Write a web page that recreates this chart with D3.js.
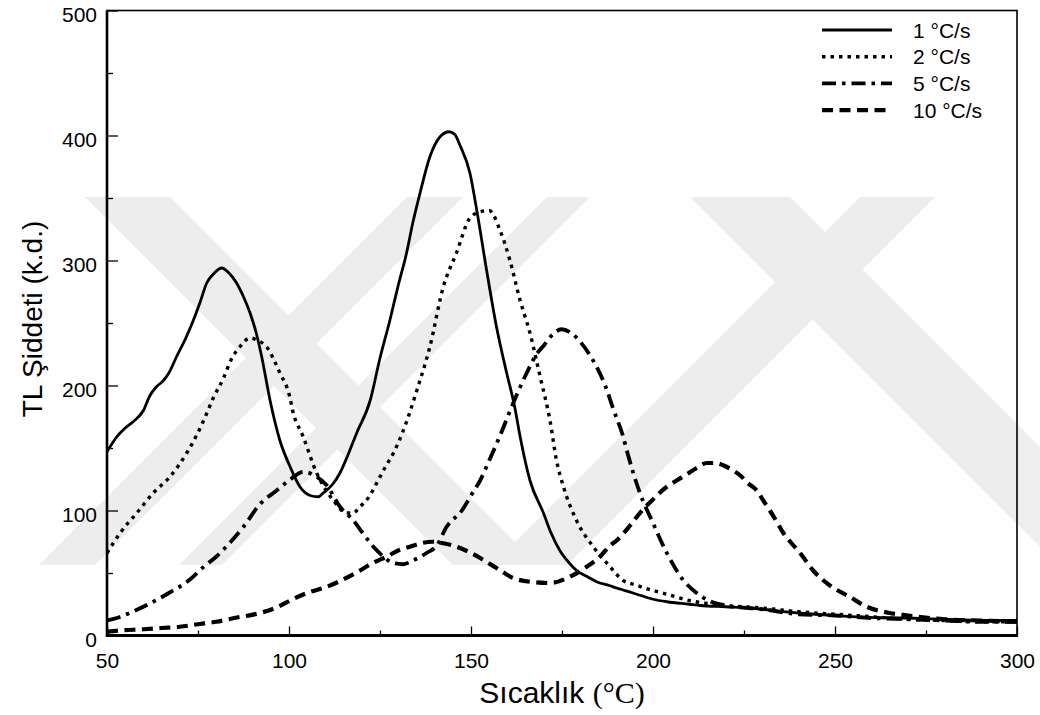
<!DOCTYPE html>
<html>
<head>
<meta charset="utf-8">
<script src="https://cdn.jsdelivr.net/npm/d3@7"></script>
<style>
  body { margin: 0; background: #fff; }
  text { font-family: "Liberation Sans", Arial, sans-serif; fill: #000; }
</style>
</head>
<body>
<div id="chart"></div>
<script>
// heating rates shown in the legend
var rates = ["1 °C/s", "2 °C/s", "5 °C/s", "10 °C/s"];

// 1 °C/s (solid)
var temp1 = [50, 52.7, 55, 57.2, 60, 61.8, 63.6, 65.5, 67, 69.1, 71.5, 73.7, 75.5, 77.4, 79.5, 81.5, 83.5, 85.6, 87.5, 89.3,
  91, 92.5, 94.8, 97.5, 100.3, 103, 105.8, 108, 109.4, 112, 114, 116, 118.6, 122.3, 125, 127.7, 130, 132.3, 134, 136,
  138.7, 141.5, 144, 145.5, 147, 149.7, 151.6, 154.3, 157, 159.8, 162, 163.5, 166.2, 169.9, 172, 174.4, 177, 179, 182, 184.5,
  188, 190, 194.5, 200, 203.8, 210, 213, 220, 226.6, 233, 240, 250, 258.7, 270, 280, 290, 300];
var int1 = [147, 159, 166, 171, 180, 192, 199, 204, 210, 223, 237, 252, 266, 282, 290, 294, 290, 282, 271, 258,
  242, 223, 188, 156, 135, 119, 112, 111, 114, 121, 130, 143, 162, 188, 222, 252, 280, 306, 330, 354,
  383, 399, 403, 401, 392, 370, 340, 292, 247, 210, 183, 159, 124, 98, 82, 68, 58, 52, 47, 43,
  40, 38, 34, 29, 27, 25, 24, 23, 22, 20, 18, 16, 14.5, 14, 13, 12, 12];

// 2 °C/s (dotted)
var temp2 = [50, 53.6, 58.2, 62.7, 67.3, 71.9, 74.6, 77, 79.2, 82, 84, 86.5, 89.3, 91.5, 93.8, 97.5, 100.2, 101, 103.9, 107.6,
  110, 112.2, 115.8, 117.6, 119.5, 122, 124.1, 126.5, 128.7, 131, 133, 135, 138.7, 142.4, 146, 149.7, 152.5, 155, 158, 160.7,
  163.5, 166.2, 169, 171.7, 173.5, 175.4, 179, 183.6, 188.2, 191.8, 194.6, 200, 203.8, 210, 220, 230, 240, 250, 260, 270,
  280, 290, 300];
var int2 = [66, 82, 98, 114, 127, 146, 160, 175, 190, 206, 220, 231, 238, 236, 231, 210, 191, 180, 159, 130,
  117, 108, 98, 98, 103, 111, 122, 135, 146, 161, 177, 195, 231, 279, 306, 334, 339, 340, 324, 300,
  268, 242, 207, 172, 140, 119, 92, 71, 55, 44, 41, 36, 33, 28, 24, 22, 19, 17, 15, 13,
  12, 11, 11];

// 5 °C/s (dash-dot)
var temp5 = [50, 52.7, 57, 62, 67, 72, 77, 80, 84, 87.5, 92, 96.6, 100, 104, 107, 110.4, 114, 117.7, 120, 123.2,
  126, 128.5, 131.4, 134, 137.8, 140.6, 143.3, 147.5, 150, 152.5, 155, 158, 161.6, 165.3, 168, 170, 172.5, 174.9, 177.5, 180,
  182.5, 184.5, 187, 189.1, 191.8, 192.8, 196.4, 200, 203.8, 208.4, 212, 216, 220, 230, 240, 250, 260, 270, 280, 290, 300];
var int5 = [12, 14, 19, 26, 34, 43, 56, 63, 75, 87, 105, 116, 124, 131, 128, 120, 103, 92, 83, 71,
  63, 58, 57, 60, 66, 72, 87, 100, 112, 124, 140, 160, 186, 210, 225, 232, 241, 245, 242, 235,
  225, 215, 199, 181, 159, 148, 114, 90, 66, 44, 34, 27, 24, 21, 17, 16, 14, 13, 12, 11, 11];

// 10 °C/s (dashed)
var temp10 = [50, 53.6, 60, 65, 70, 75, 80, 85, 92, 97, 101, 105, 110.4, 115, 119.5, 123, 126.8, 130, 133.2, 136.5,
  139.6, 142, 145, 147, 150, 152.5, 157, 161.6, 166.2, 171.7, 177.2, 181.8, 185.4, 188.2, 190, 193.7, 197, 199, 203.8, 206.5,
  209.3, 212, 214.8, 217.2, 219.4, 222, 224, 226, 228.5, 230.3, 232.1, 234, 235.8, 238, 240.4, 244, 248.6, 254, 258.7, 265,
  270, 280, 290, 300];
var int10 = [3, 4, 5, 6, 7, 9, 11, 14, 18, 23, 29, 34, 39, 45, 52, 58, 63, 68, 71, 74,
  75, 74, 72, 70, 66, 62, 54, 46, 43, 42, 47, 55, 63, 72, 76, 88, 100, 106, 119, 124,
  129, 134, 138, 138, 136, 132, 128, 122, 116, 108, 100, 91, 82, 74, 66, 52, 40, 31, 23, 18,
  16, 13, 12, 11];

var xTicks = [50, 100, 150, 200, 250, 300];
var yTicks = [0, 100, 200, 300, 400, 500];

var W = 1040, H = 715;
var plotL = 107, plotR = 1017, plotT = 10.5, plotB = 635.5;

var svg = d3.select("#chart").append("svg")
    .attr("width", W)
    .attr("height", H);

var x = d3.scaleLinear().domain([50, 300]).range([plotL, plotR]);
var y = d3.scaleLinear().domain([0, 500]).range([plotB, plotT]);

// faint watermark bands behind the plot (group opacity so overlaps stay flat)
var wm = svg.append("g").attr("fill", "#000").attr("opacity", 0.065);
var wTop = 197, wBot = 565, wH = wBot - wTop;
[[85, 170, 1], [690, 790, 1], [407, 463, -1], [547, 590, -1], [860, 935, -1]].forEach(function (b) {
  var s = b[2] * wH;
  wm.append("path").attr("d",
      "M" + b[0] + "," + wTop + "L" + b[1] + "," + wTop +
      "L" + (b[1] + s) + "," + wBot + "L" + (b[0] + s) + "," + wBot + "Z");
});

// axes with inward ticks
var yAxis = svg.append("g")
    .attr("transform", "translate(" + plotL + ",0)")
    .call(d3.axisLeft(y).tickValues(yTicks).tickSize(-11).tickPadding(10).tickFormat(d3.format("d")));
svg.append("g")
    .attr("transform", "translate(" + plotL + ",0)")
    .call(d3.axisLeft(y).tickValues(d3.range(50, 500, 100)).tickSize(-6).tickFormat(""));
var xAxis = svg.append("g")
    .attr("transform", "translate(0," + plotB + ")")
    .call(d3.axisBottom(x).tickValues(xTicks).tickSize(-9).tickPadding(18).tickFormat(d3.format("d")));
svg.append("g")
    .attr("transform", "translate(0," + plotB + ")")
    .call(d3.axisBottom(x).tickValues(d3.range(75, 300, 50)).tickSize(-5).tickFormat(""));

svg.selectAll(".domain").remove();
svg.selectAll(".tick line").attr("stroke", "#000").attr("stroke-width", 1.3);
svg.selectAll(".tick text").style("font-size", "21px").style("font-family", "Liberation Sans, Arial, sans-serif");
yAxis.selectAll(".tick text").attr("dy", "0.5em");

// frame
svg.append("rect")
    .attr("x", plotL).attr("y", plotT)
    .attr("width", plotR - plotL).attr("height", plotB - plotT)
    .attr("fill", "none").attr("stroke", "#000").attr("stroke-width", 1.6);
svg.append("line").attr("x1", plotL).attr("x2", plotL).attr("y1", plotT).attr("y2", plotB + 1.5)
    .attr("stroke", "#000").attr("stroke-width", 2.6);
svg.append("line").attr("x1", plotL).attr("x2", plotR + 1).attr("y1", plotB).attr("y2", plotB)
    .attr("stroke", "#000").attr("stroke-width", 3);

// curves
var styles = [
  {dash: null, width: 2.8},
  {dash: "3.5,5", width: 3.4},
  {dash: "14,6,3.5,6", width: 3.8},
  {dash: "11,6.5", width: 4.2}
];
var series = [
  d3.zip(temp1, int1),
  d3.zip(temp2, int2),
  d3.zip(temp5, int5),
  d3.zip(temp10, int10)
];

svg.append("clipPath").attr("id", "plotclip").append("rect")
    .attr("x", plotL).attr("y", plotT).attr("width", plotR - plotL).attr("height", plotB - plotT);

var line = d3.line()
    .x(function (d) { return x(d[0]); })
    .y(function (d) { return y(d[1]); })
    .curve(d3.curveMonotoneX);

svg.append("g").attr("clip-path", "url(#plotclip)")
    .selectAll("path")
    .data(series)
    .enter().append("path")
    .attr("d", line)
    .attr("fill", "none")
    .attr("stroke", "#000")
    .attr("stroke-width", function (d, i) { return styles[i].width; })
    .attr("stroke-dasharray", function (d, i) { return styles[i].dash; })
    .attr("stroke-linejoin", "round");

// legend
var legend = svg.append("g").attr("transform", "translate(822,30)");
rates.forEach(function (r, i) {
  var row = legend.append("g").attr("transform", "translate(0," + (i * 26.7) + ")");
  row.append("line")
      .attr("x1", 0).attr("x2", 70)
      .attr("stroke", "#000")
      .attr("stroke-width", styles[i].width)
      .attr("stroke-dasharray", styles[i].dash);
  row.append("text")
      .attr("x", 91).attr("dy", "0.36em")
      .style("font-size", "21px")
      .text(r);
});

// axis titles
var xt = svg.append("text")
    .attr("x", 562).attr("y", 703)
    .attr("text-anchor", "middle")
    .style("font-size", "30px");
xt.append("tspan").text("Sıcaklık ");
xt.append("tspan").style("font-family", "Liberation Serif, Times New Roman, serif").text("(°C)");

svg.append("text")
    .attr("transform", "translate(42,319) rotate(-90)")
    .attr("text-anchor", "middle")
    .style("font-size", "28px")
    .text("TL Şiddeti (k.d.)");
</script>
</body>
</html>
